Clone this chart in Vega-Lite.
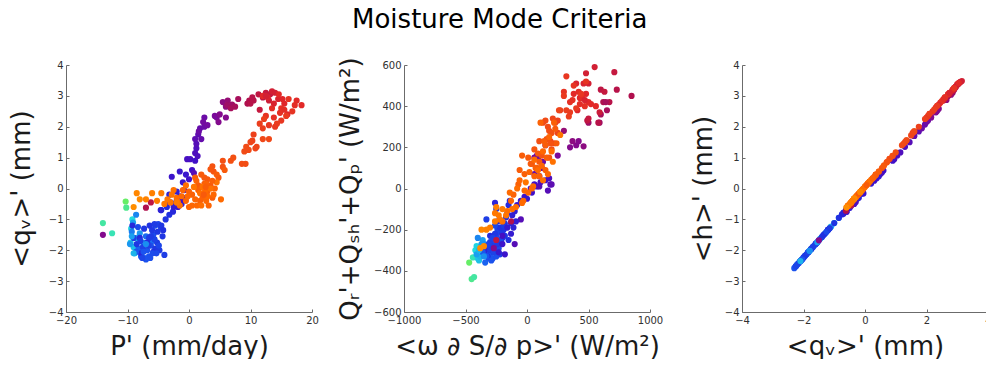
{
  "$schema": "https://vega.github.io/schema/vega-lite/v6.json",
  "background": "white",
  "padding": {"left": 8, "top": 6, "right": 0, "bottom": 0},
  "title": {"text": "Moisture Mode Criteria", "fontSize": 26, "font": "DejaVu Sans", "fontWeight": "normal", "color": "#000000", "anchor": "middle", "offset": 24},
  "config": {
    "view": {"stroke": null},
    "font": "DejaVu Sans",
    "axis": {"grid": false, "domainColor": "#6b6b6b", "domainWidth": 1, "tickColor": "#6b6b6b", "tickSize": -3, "labelFont": "DejaVu Sans", "labelFontSize": 10, "labelColor": "#303030", "labelPadding": 6, "labelFlush": false, "format": "d", "titleFont": "DejaVu Sans", "titleFontSize": 26, "titleFontWeight": "normal", "titleColor": "#1a1a1a"}
  },
  "bounds": "flush",
  "spacing": 92,
  "datasets": {
    "pts": [
      {"t":0.00,"P":-10.3,"q":-0.42,"w":-470,"Q":-360,"h":-0.47},
      {"t":0.02,"P":-10.2,"q":-0.62,"w":-450,"Q":-440,"h":-0.70},
      {"t":0.03,"P":-14.0,"q":-1.12,"w":-430,"Q":-430,"h":-1.25},
      {"t":0.04,"P":-12.5,"q":-1.45,"w":-440,"Q":-335,"h":-1.62},
      {"t":0.06,"P":-9.2,"q":-1.0,"w":-420,"Q":-300,"h":-1.12},
      {"t":0.07,"P":-9.4,"q":-1.3,"w":-410,"Q":-280,"h":-1.46},
      {"t":0.08,"P":-9.5,"q":-1.75,"w":-400,"Q":-340,"h":-1.96},
      {"t":0.09,"P":-9.0,"q":-1.9,"w":-390,"Q":-350,"h":-2.13},
      {"t":0.10,"P":-8.8,"q":-2.1,"w":-380,"Q":-330,"h":-2.35},
      {"t":0.11,"P":-8.5,"q":-1.6,"w":-370,"Q":-290,"h":-1.79},
      {"t":0.12,"P":-9.1,"q":-1.1,"w":-360,"Q":-250,"h":-1.23},
      {"t":0.13,"P":-8.0,"q":-1.45,"w":-355,"Q":-310,"h":-1.62},
      {"t":0.14,"P":-7.5,"q":-1.75,"w":-345,"Q":-270,"h":-1.96},
      {"t":0.15,"P":-8.6,"q":-0.85,"w":-400,"Q":-240,"h":-0.95},
      {"t":0.16,"P":-9.3,"q":-1.4,"w":-385,"Q":-300,"h":-1.57},
      {"t":0.17,"P":-6.0,"q":-1.7,"w":-330,"Q":-320,"h":-1.90},
      {"t":0.18,"P":-7.0,"q":-1.55,"w":-320,"Q":-280,"h":-1.74},
      {"t":0.19,"P":-8.2,"q":-1.95,"w":-340,"Q":-360,"h":-2.18},
      {"t":0.20,"P":-7.8,"q":-2.2,"w":-310,"Q":-340,"h":-2.46},
      {"t":0.21,"P":-7.2,"q":-2.25,"w":-300,"Q":-320,"h":-2.52},
      {"t":0.22,"P":-6.8,"q":-2.0,"w":-290,"Q":-300,"h":-2.24},
      {"t":0.23,"P":-6.5,"q":-2.2,"w":-280,"Q":-340,"h":-2.46},
      {"t":0.24,"P":-6.2,"q":-1.85,"w":-270,"Q":-270,"h":-2.07},
      {"t":0.25,"P":-5.8,"q":-1.5,"w":-260,"Q":-250,"h":-1.68},
      {"t":0.26,"P":-5.5,"q":-1.2,"w":-250,"Q":-230,"h":-1.34},
      {"t":0.27,"P":-5.0,"q":-1.15,"w":-240,"Q":-200,"h":-1.29},
      {"t":0.28,"P":-4.6,"q":-1.25,"w":-230,"Q":-210,"h":-1.40},
      {"t":0.29,"P":-7.5,"q":-1.9,"w":-320,"Q":-290,"h":-2.13},
      {"t":0.30,"P":-6.5,"q":-1.6,"w":-300,"Q":-260,"h":-1.79},
      {"t":0.30,"P":-4.0,"q":-2.15,"w":-220,"Q":-320,"h":-2.41},
      {"t":0.31,"P":-5.2,"q":-1.75,"w":-210,"Q":-260,"h":-1.96},
      {"t":0.31,"P":-4.8,"q":-2.0,"w":-280,"Q":-280,"h":-2.24},
      {"t":0.32,"P":-5.5,"q":-1.95,"w":-200,"Q":-240,"h":-2.18},
      {"t":0.32,"P":-6.0,"q":-1.35,"w":-260,"Q":-220,"h":-1.51},
      {"t":0.33,"P":-7.3,"q":-1.3,"w":-350,"Q":-280,"h":-1.46},
      {"t":0.33,"P":-4.3,"q":-1.55,"w":-190,"Q":-200,"h":-1.74},
      {"t":0.34,"P":-3.8,"q":-1.0,"w":-180,"Q":-170,"h":-1.12},
      {"t":0.34,"P":-4.5,"q":-0.7,"w":-170,"Q":-140,"h":-0.78},
      {"t":0.35,"P":-3.2,"q":-0.85,"w":-160,"Q":-120,"h":-0.95},
      {"t":0.35,"P":-5.8,"q":-2.05,"w":-320,"Q":-330,"h":-2.30},
      {"t":0.36,"P":-8.0,"q":-1.6,"w":-300,"Q":-230,"h":-1.79},
      {"t":0.36,"P":-6.8,"q":-1.75,"w":-270,"Q":-310,"h":-1.96},
      {"t":0.37,"P":-2.6,"q":-0.75,"w":-150,"Q":-80,"h":-0.84},
      {"t":0.37,"P":-3.0,"q":-0.45,"w":-140,"Q":-60,"h":-0.50},
      {"t":0.38,"P":-2.0,"q":-0.4,"w":-260,"Q":-70,"h":-0.45},
      {"t":0.38,"P":-7.8,"q":-2.1,"w":-340,"Q":-300,"h":-2.35},
      {"t":0.30,"P":-9.0,"q":-1.6,"w":-330,"Q":-150,"h":-1.79},
      {"t":0.33,"P":-8.5,"q":-1.8,"w":-250,"Q":-100,"h":-2.02},
      {"t":0.21,"P":-8.6,"q":-2.05,"w":-360,"Q":-310,"h":-2.3},
      {"t":0.22,"P":-7.4,"q":-2.05,"w":-330,"Q":-330,"h":-2.3},
      {"t":0.23,"P":-7.0,"q":-2.3,"w":-290,"Q":-350,"h":-2.58},
      {"t":0.24,"P":-6.3,"q":-2.25,"w":-250,"Q":-330,"h":-2.52},
      {"t":0.25,"P":-5.9,"q":-2.1,"w":-240,"Q":-300,"h":-2.35},
      {"t":0.26,"P":-5.3,"q":-2.1,"w":-230,"Q":-290,"h":-2.35},
      {"t":0.27,"P":-4.9,"q":-1.85,"w":-220,"Q":-250,"h":-2.07},
      {"t":0.28,"P":-5.6,"q":-1.65,"w":-280,"Q":-240,"h":-1.85},
      {"t":0.29,"P":-6.6,"q":-1.85,"w":-310,"Q":-270,"h":-2.07},
      {"t":0.30,"P":-7.9,"q":-1.7,"w":-300,"Q":-300,"h":-1.9},
      {"t":0.31,"P":-6.2,"q":-1.55,"w":-240,"Q":-270,"h":-1.74},
      {"t":0.32,"P":-5.1,"q":-1.4,"w":-200,"Q":-220,"h":-1.57},
      {"t":0.33,"P":-4.5,"q":-1.2,"w":-180,"Q":-230,"h":-1.34},
      {"t":0.34,"P":-6.4,"q":-1.2,"w":-220,"Q":-190,"h":-1.34},
      {"t":0.35,"P":-4.2,"q":-1.35,"w":-150,"Q":-250,"h":-1.51},
      {"t":0.36,"P":-3.6,"q":-0.6,"w":-130,"Q":-170,"h":-0.67},
      {"t":0.37,"P":-9.2,"q":-1.2,"w":-240,"Q":-160,"h":-1.34},
      {"t":0.26,"P":-8.3,"q":-1.25,"w":-260,"Q":-180,"h":-1.4},
      {"t":0.28,"P":-7.6,"q":-2.25,"w":-270,"Q":-310,"h":-2.52},
      {"t":0.31,"P":-5.6,"q":-1.15,"w":-190,"Q":-180,"h":-1.29},
      {"t":0.12,"P":-9.3,"q":-1.55,"w":-410,"Q":-320,"h":-1.74},
      {"t":0.13,"P":-9.6,"q":-1.8,"w":-370,"Q":-270,"h":-2.02},
      {"t":0.10,"P":-9.0,"q":-2.1,"w":-390,"Q":-300,"h":-2.35},
      {"t":0.14,"P":-7.0,"q":-1.8,"w":-350,"Q":-330,"h":-2.02},
      {"t":0.39,"P":-4.6,"q":-0.7,"w":-200,"Q":-160,"h":-0.82},
      {"t":0.40,"P":-3.5,"q":-0.45,"w":-120,"Q":-130,"h":-0.56},
      {"t":0.40,"P":-2.0,"q":-0.1,"w":-100,"Q":-110,"h":-0.17},
      {"t":0.41,"P":-1.5,"q":-0.25,"w":-160,"Q":-190,"h":-0.33},
      {"t":0.41,"P":-1.2,"q":-0.5,"w":-130,"Q":-220,"h":-0.62},
      {"t":0.42,"P":-1.0,"q":0.2,"w":-80,"Q":-80,"h":0.16},
      {"t":0.42,"P":-1.5,"q":0.55,"w":-50,"Q":-60,"h":0.52},
      {"t":0.43,"P":-0.8,"q":-0.05,"w":-20,"Q":-40,"h":-0.16},
      {"t":0.43,"P":-2.8,"q":0.38,"w":-200,"Q":-270,"h":0.33},
      {"t":0.44,"P":0.0,"q":0.3,"w":30,"Q":0,"h":0.25},
      {"t":0.44,"P":0.5,"q":0.6,"w":60,"Q":20,"h":0.58},
      {"t":0.45,"P":-0.3,"q":0.95,"w":80,"Q":10,"h":0.95},
      {"t":0.45,"P":0.2,"q":0.95,"w":150,"Q":40,"h":0.97},
      {"t":0.46,"P":1.0,"q":1.15,"w":180,"Q":50,"h":1.17},
      {"t":0.46,"P":1.2,"q":1.3,"w":190,"Q":20,"h":1.35},
      {"t":0.47,"P":0.8,"q":0.5,"w":-50,"Q":-150,"h":0.47},
      {"t":0.47,"P":-0.5,"q":-0.3,"w":-100,"Q":-270,"h":-0.44},
      {"t":0.48,"P":1.5,"q":1.75,"w":100,"Q":10,"h":1.85},
      {"t":0.48,"P":1.0,"q":1.6,"w":200,"Q":20,"h":1.70},
      {"t":0.41,"P":-2.5,"q":-0.6,"w":-230,"Q":-310,"h":-0.75},
      {"t":0.43,"P":-1.8,"q":-0.6,"w":-180,"Q":-320,"h":-0.75},
      {"t":0.39,"P":-3.2,"q":-0.2,"w":-110,"Q":-190,"h":-0.3},
      {"t":0.40,"P":-2.3,"q":-0.5,"w":-90,"Q":-160,"h":-0.62},
      {"t":0.42,"P":-0.5,"q":0.45,"w":0,"Q":-50,"h":0.4},
      {"t":0.44,"P":1.0,"q":0.9,"w":40,"Q":-20,"h":0.9},
      {"t":0.46,"P":1.4,"q":1.05,"w":110,"Q":30,"h":1.07},
      {"t":0.47,"P":1.2,"q":1.45,"w":170,"Q":-10,"h":1.5},
      {"t":0.45,"P":-1.0,"q":-0.35,"w":-200,"Q":-230,"h":-0.5},
      {"t":0.49,"P":2.0,"q":1.6,"w":60,"Q":70,"h":1.70},
      {"t":0.49,"P":1.8,"q":1.95,"w":100,"Q":60,"h":2.07},
      {"t":0.50,"P":2.5,"q":2.0,"w":120,"Q":100,"h":2.15},
      {"t":0.50,"P":2.5,"q":2.3,"w":90,"Q":150,"h":2.47},
      {"t":0.51,"P":2.3,"q":2.15,"w":80,"Q":160,"h":2.30},
      {"t":0.52,"P":4.5,"q":2.3,"w":150,"Q":210,"h":2.47},
      {"t":0.52,"P":4.2,"q":2.35,"w":250,"Q":160,"h":2.52},
      {"t":0.53,"P":6.0,"q":2.3,"w":350,"Q":200,"h":2.48},
      {"t":0.53,"P":4.8,"q":2.15,"w":400,"Q":210,"h":2.31},
      {"t":0.54,"P":5.5,"q":2.8,"w":460,"Q":205,"h":3.04},
      {"t":0.54,"P":6.0,"q":2.65,"w":370,"Q":230,"h":2.87},
      {"t":0.50,"P":1.6,"q":1.85,"w":130,"Q":130,"h":1.95},
      {"t":0.51,"P":3.0,"q":2.05,"w":60,"Q":150,"h":2.2},
      {"t":0.53,"P":5.0,"q":2.4,"w":420,"Q":230,"h":2.58},
      {"t":0.55,"P":6.3,"q":2.85,"w":300,"Q":280,"h":3.1},
      {"t":0.53,"P":-14.0,"q":-1.5,"w":-270,"Q":-290,"h":-1.68},
      {"t":0.58,"P":-7.0,"q":-0.62,"w":-130,"Q":-160,"h":-0.72},
      {"t":0.60,"P":-6.2,"q":-0.45,"w":-250,"Q":-250,"h":-0.55},
      {"t":0.56,"P":6.2,"q":2.7,"w":500,"Q":320,"h":3.0},
      {"t":0.56,"P":7.0,"q":2.72,"w":590,"Q":320,"h":3.02},
      {"t":0.57,"P":6.8,"q":2.6,"w":650,"Q":380,"h":2.9},
      {"t":0.57,"P":8.0,"q":2.9,"w":600,"Q":360,"h":3.2},
      {"t":0.58,"P":9.5,"q":2.75,"w":850,"Q":450,"h":3.05},
      {"t":0.58,"P":9.8,"q":2.85,"w":620,"Q":420,"h":3.15},
      {"t":0.59,"P":10.3,"q":2.95,"w":670,"Q":420,"h":3.28},
      {"t":0.59,"P":10.0,"q":2.75,"w":730,"Q":480,"h":3.07},
      {"t":0.60,"P":11.3,"q":3.05,"w":600,"Q":480,"h":3.4},
      {"t":0.60,"P":12.0,"q":2.95,"w":490,"Q":330,"h":3.3},
      {"t":0.61,"P":12.5,"q":3.1,"w":710,"Q":565,"h":3.45},
      {"t":0.61,"P":11.5,"q":2.55,"w":500,"Q":340,"h":2.85},
      {"t":0.62,"P":13.0,"q":2.85,"w":590,"Q":370,"h":3.18},
      {"t":0.57,"P":7.5,"q":2.65,"w":640,"Q":420,"h":2.95},
      {"t":0.59,"P":10.5,"q":2.85,"w":580,"Q":320,"h":3.18},
      {"t":0.61,"P":13.2,"q":3.05,"w":630,"Q":470,"h":3.4},
      {"t":0.63,"P":13.5,"q":3.15,"w":550,"Q":590,"h":3.48},
      {"t":0.63,"P":14.0,"q":3.1,"w":480,"Q":560,"h":3.45},
      {"t":0.64,"P":12.8,"q":2.95,"w":460,"Q":510,"h":3.3},
      {"t":0.64,"P":14.5,"q":2.9,"w":400,"Q":510,"h":3.25},
      {"t":0.65,"P":15.2,"q":2.9,"w":430,"Q":440,"h":3.25},
      {"t":0.65,"P":15.5,"q":2.75,"w":480,"Q":460,"h":3.1},
      {"t":0.66,"P":17.5,"q":2.85,"w":500,"Q":420,"h":3.2},
      {"t":0.66,"P":18.3,"q":2.7,"w":520,"Q":410,"h":3.05},
      {"t":0.67,"P":17.2,"q":2.7,"w":450,"Q":440,"h":3.05},
      {"t":0.67,"P":13.5,"q":2.6,"w":420,"Q":470,"h":2.95},
      {"t":0.68,"P":14.8,"q":2.45,"w":370,"Q":430,"h":2.78},
      {"t":0.68,"P":15.0,"q":2.6,"w":470,"Q":400,"h":2.95},
      {"t":0.69,"P":12.5,"q":2.35,"w":300,"Q":470,"h":2.68},
      {"t":0.69,"P":16.8,"q":2.5,"w":380,"Q":500,"h":2.83},
      {"t":0.70,"P":13.0,"q":2.05,"w":320,"Q":545,"h":2.35},
      {"t":0.70,"P":14.0,"q":2.0,"w":440,"Q":460,"h":2.3},
      {"t":0.66,"P":12.0,"q":3.0,"w":560,"Q":400,"h":3.38},
      {"t":0.65,"P":16.0,"q":2.4,"w":410,"Q":380,"h":2.72},
      {"t":0.63,"P":12.5,"q":3.0,"w":500,"Q":510,"h":3.35},
      {"t":0.64,"P":13.8,"q":2.75,"w":470,"Q":430,"h":3.1},
      {"t":0.66,"P":14.6,"q":3.05,"w":380,"Q":460,"h":3.42},
      {"t":0.67,"P":15.5,"q":2.55,"w":430,"Q":410,"h":2.9},
      {"t":0.68,"P":13.8,"q":2.3,"w":350,"Q":420,"h":2.62},
      {"t":0.69,"P":16.2,"q":2.9,"w":480,"Q":520,"h":3.25},
      {"t":0.70,"P":15.0,"q":2.2,"w":400,"Q":390,"h":2.5},
      {"t":0.71,"P":15.8,"q":2.35,"w":350,"Q":370,"h":2.68},
      {"t":0.71,"P":14.3,"q":2.1,"w":300,"Q":450,"h":2.42},
      {"t":0.72,"P":11.5,"q":2.1,"w":320,"Q":380,"h":2.42},
      {"t":0.72,"P":12.2,"q":2.25,"w":270,"Q":380,"h":2.56},
      {"t":0.72,"P":12.0,"q":1.95,"w":340,"Q":350,"h":2.25},
      {"t":0.73,"P":10.5,"q":1.75,"w":250,"Q":330,"h":2.0},
      {"t":0.73,"P":10.3,"q":1.55,"w":230,"Q":320,"h":1.8},
      {"t":0.74,"P":11.0,"q":1.35,"w":250,"Q":270,"h":1.56},
      {"t":0.74,"P":10.8,"q":1.3,"w":210,"Q":340,"h":1.5},
      {"t":0.74,"P":10.0,"q":1.5,"w":260,"Q":380,"h":1.72},
      {"t":0.75,"P":12.0,"q":1.6,"w":220,"Q":220,"h":1.85},
      {"t":0.75,"P":13.0,"q":1.6,"w":190,"Q":230,"h":1.85},
      {"t":0.76,"P":9.0,"q":1.2,"w":150,"Q":330,"h":1.4},
      {"t":0.76,"P":9.3,"q":1.35,"w":130,"Q":320,"h":1.56},
      {"t":0.76,"P":9.7,"q":1.25,"w":170,"Q":300,"h":1.45},
      {"t":0.77,"P":8.6,"q":0.8,"w":180,"Q":280,"h":0.96},
      {"t":0.77,"P":9.2,"q":0.8,"w":200,"Q":190,"h":0.96},
      {"t":0.78,"P":6.8,"q":0.9,"w":100,"Q":230,"h":1.06},
      {"t":0.78,"P":5.5,"q":0.9,"w":160,"Q":240,"h":1.06},
      {"t":0.78,"P":7.2,"q":1.0,"w":200,"Q":270,"h":1.17},
      {"t":0.79,"P":5.5,"q":0.7,"w":120,"Q":160,"h":0.84},
      {"t":0.79,"P":3.8,"q":0.72,"w":190,"Q":220,"h":0.86},
      {"t":0.80,"P":4.0,"q":0.55,"w":60,"Q":190,"h":0.66},
      {"t":0.80,"P":3.5,"q":0.62,"w":180,"Q":150,"h":0.75},
      {"t":0.81,"P":4.8,"q":0.35,"w":100,"Q":130,"h":0.45},
      {"t":0.81,"P":3.0,"q":0.3,"w":40,"Q":120,"h":0.38},
      {"t":0.81,"P":2.5,"q":0.35,"w":90,"Q":170,"h":0.45},
      {"t":0.82,"P":2.0,"q":0.45,"w":10,"Q":150,"h":0.55},
      {"t":0.82,"P":3.5,"q":0.1,"w":80,"Q":100,"h":0.17},
      {"t":0.82,"P":1.5,"q":0.1,"w":30,"Q":120,"h":0.17},
      {"t":0.82,"P":5.8,"q":0.6,"w":230,"Q":290,"h":0.72},
      {"t":0.83,"P":1.0,"q":0.35,"w":-40,"Q":160,"h":0.44},
      {"t":0.83,"P":2.5,"q":0.15,"w":-60,"Q":90,"h":0.22},
      {"t":0.83,"P":3.8,"q":-0.3,"w":160,"Q":150,"h":-0.28},
      {"t":0.83,"P":4.5,"q":0.45,"w":150,"Q":210,"h":0.55},
      {"t":0.84,"P":3.0,"q":-0.1,"w":150,"Q":90,"h":-0.06},
      {"t":0.84,"P":1.5,"q":-0.05,"w":-20,"Q":70,"h":0.0},
      {"t":0.84,"P":0.5,"q":-0.2,"w":-70,"Q":20,"h":-0.17},
      {"t":0.84,"P":1.8,"q":-0.4,"w":70,"Q":100,"h":-0.39},
      {"t":0.85,"P":2.2,"q":-0.3,"w":60,"Q":60,"h":-0.28},
      {"t":0.85,"P":0.0,"q":-0.1,"w":-110,"Q":-30,"h":-0.06},
      {"t":0.85,"P":2.8,"q":0.15,"w":100,"Q":60,"h":0.22},
      {"t":0.86,"P":1.0,"q":-0.35,"w":20,"Q":80,"h":-0.33},
      {"t":0.86,"P":-0.5,"q":-0.4,"w":-60,"Q":40,"h":-0.39},
      {"t":0.86,"P":3.2,"q":-0.55,"w":120,"Q":110,"h":-0.55},
      {"t":0.86,"P":-1.0,"q":-0.05,"w":-130,"Q":-60,"h":0.0},
      {"t":0.86,"P":4.2,"q":0.0,"w":180,"Q":250,"h":0.06},
      {"t":0.87,"P":2.8,"q":-0.4,"w":170,"Q":70,"h":-0.39},
      {"t":0.87,"P":0.5,"q":-0.55,"w":-30,"Q":-60,"h":-0.56},
      {"t":0.87,"P":4.0,"q":-0.2,"w":130,"Q":180,"h":-0.17},
      {"t":0.87,"P":1.3,"q":-0.55,"w":10,"Q":-20,"h":-0.56},
      {"t":0.87,"P":-0.2,"q":-0.25,"w":-20,"Q":-10,"h":-0.22},
      {"t":0.88,"P":-1.2,"q":-0.25,"w":-140,"Q":-20,"h":-0.22},
      {"t":0.88,"P":5.2,"q":-0.35,"w":90,"Q":90,"h":-0.33},
      {"t":0.88,"P":-1.8,"q":-0.45,"w":-40,"Q":-70,"h":-0.45},
      {"t":0.88,"P":3.0,"q":-0.25,"w":200,"Q":180,"h":-0.22},
      {"t":0.88,"P":2.6,"q":-0.1,"w":60,"Q":140,"h":-0.06},
      {"t":0.89,"P":1.8,"q":-0.15,"w":50,"Q":10,"h":-0.11},
      {"t":0.89,"P":-0.5,"q":0.1,"w":-90,"Q":-90,"h":0.17},
      {"t":0.89,"P":2.0,"q":-0.55,"w":-80,"Q":0,"h":-0.56},
      {"t":0.89,"P":-2.0,"q":-0.3,"w":-160,"Q":-110,"h":-0.28},
      {"t":0.90,"P":-2.5,"q":-0.05,"w":-200,"Q":-160,"h":0.0},
      {"t":0.90,"P":-1.5,"q":-0.55,"w":-120,"Q":-100,"h":-0.56},
      {"t":0.90,"P":3.5,"q":0.0,"w":210,"Q":130,"h":0.06},
      {"t":0.90,"P":2.2,"q":0.05,"w":130,"Q":40,"h":0.11},
      {"t":0.91,"P":-3.0,"q":-0.45,"w":-170,"Q":-130,"h":-0.45},
      {"t":0.91,"P":0.8,"q":0.05,"w":-10,"Q":30,"h":0.11},
      {"t":0.91,"P":4.5,"q":0.2,"w":270,"Q":260,"h":0.28},
      {"t":0.91,"P":-2.8,"q":-0.2,"w":-220,"Q":-150,"h":-0.17},
      {"t":0.83,"P":2.7,"q":0.05,"w":140,"Q":230,"h":0.11},
      {"t":0.84,"P":3.8,"q":0.25,"w":220,"Q":320,"h":0.33},
      {"t":0.85,"P":1.2,"q":0.25,"w":110,"Q":320,"h":0.33},
      {"t":0.82,"P":2.4,"q":-0.2,"w":240,"Q":220,"h":-0.17},
      {"t":0.86,"P":0.0,"q":-0.6,"w":40,"Q":0,"h":-0.61},
      {"t":0.92,"P":-3.5,"q":-0.35,"w":-230,"Q":-130,"h":-0.33},
      {"t":0.92,"P":-4.0,"q":-0.5,"w":-260,"Q":-120,"h":-0.5},
      {"t":0.93,"P":-4.5,"q":-0.15,"w":-260,"Q":-160,"h":-0.11},
      {"t":0.94,"P":-6.0,"q":-0.15,"w":-300,"Q":-190,"h":-0.11},
      {"t":0.95,"P":-7.0,"q":-0.35,"w":-330,"Q":-200,"h":-0.33},
      {"t":0.96,"P":-8.5,"q":-0.15,"w":-370,"Q":-200,"h":-0.11},
      {"t":0.97,"P":-8.0,"q":-0.35,"w":-350,"Q":-280,"h":-0.33},
      {"t":0.98,"P":-9.0,"q":-0.6,"w":-380,"Q":-290,"h":-0.61},
      {"t":0.94,"P":-5.2,"q":-0.4,"w":-250,"Q":-90,"h":-0.39},
      {"t":0.93,"P":-2.0,"q":-0.45,"w":-200,"Q":-100,"h":-0.45}
    ]
  },
  "hconcat": [
    {
      "width": 246, "height": 247,
      "data": {"name": "pts"},
      "mark": {"type": "circle", "size": 38, "opacity": 1},
      "encoding": {
        "x": {"field": "P", "type": "quantitative", "title": "P' (mm/day)", "scale": {"domain": [-20, 20], "nice": false, "zero": false}, "axis": {"values": [-20, -10, 0, 10, 20], "titlePadding": 8}},
        "y": {"field": "q", "type": "quantitative", "title": "<qᵥ>' (mm)", "scale": {"domain": [-4, 4], "nice": false, "zero": false}, "axis": {"values": [-4, -3, -2, -1, 0, 1, 2, 3, 4], "titlePadding": 14}},
        "color": {"field": "t", "type": "quantitative", "legend": null, "scale": {"domain": [0, 0.06, 0.12, 0.2, 0.35, 0.44, 0.52, 0.58, 0.65, 0.75, 0.88, 1], "range": ["#66ee66", "#22dddd", "#1aa0f0", "#1a5af0", "#2030e0", "#4010c8", "#7a0a9a", "#b0104e", "#e0262a", "#f04818", "#ff6a00", "#ff9400"], "interpolate": "rgb"}}
      }
    },
    {
      "width": 246, "height": 247,
      "data": {"name": "pts"},
      "mark": {"type": "circle", "size": 38, "opacity": 1},
      "encoding": {
        "x": {"field": "w", "type": "quantitative", "title": "<ω ∂ S/∂ p>' (W/m²)", "scale": {"domain": [-1000, 1000], "nice": false, "zero": false}, "axis": {"values": [-1000, -500, 0, 500, 1000], "titlePadding": 8}},
        "y": {"field": "Q", "type": "quantitative", "title": "Qᵣ'+Qₛₕ'+Qₚ' (W/m²)", "scale": {"domain": [-600, 600], "nice": false, "zero": false}, "axis": {"values": [-600, -400, -200, 0, 200, 400, 600], "titlePadding": 10}},
        "color": {"field": "t", "type": "quantitative", "legend": null, "scale": {"domain": [0, 0.06, 0.12, 0.2, 0.35, 0.44, 0.52, 0.58, 0.65, 0.75, 0.88, 1], "range": ["#66ee66", "#22dddd", "#1aa0f0", "#1a5af0", "#2030e0", "#4010c8", "#7a0a9a", "#b0104e", "#e0262a", "#f04818", "#ff6a00", "#ff9400"], "interpolate": "rgb"}}
      }
    },
    {
      "width": 246, "height": 247,
      "data": {"name": "pts"},
      "mark": {"type": "circle", "size": 38, "opacity": 1},
      "encoding": {
        "x": {"field": "q", "type": "quantitative", "title": "<qᵥ>' (mm)", "scale": {"domain": [-4, 4], "nice": false, "zero": false}, "axis": {"values": [-4, -2, 0, 2, 4], "titlePadding": 8}},
        "y": {"field": "h", "type": "quantitative", "title": "<h>' (mm)", "scale": {"domain": [-4, 4], "nice": false, "zero": false}, "axis": {"values": [-4, -3, -2, -1, 0, 1, 2, 3, 4], "titlePadding": 8}},
        "color": {"field": "t", "type": "quantitative", "legend": null, "scale": {"domain": [0, 0.06, 0.12, 0.2, 0.35, 0.44, 0.52, 0.58, 0.65, 0.75, 0.88, 1], "range": ["#66ee66", "#22dddd", "#1aa0f0", "#1a5af0", "#2030e0", "#4010c8", "#7a0a9a", "#b0104e", "#e0262a", "#f04818", "#ff6a00", "#ff9400"], "interpolate": "rgb"}}
      }
    }
  ],
  "resolve": {"scale": {"color": "shared"}}
}
